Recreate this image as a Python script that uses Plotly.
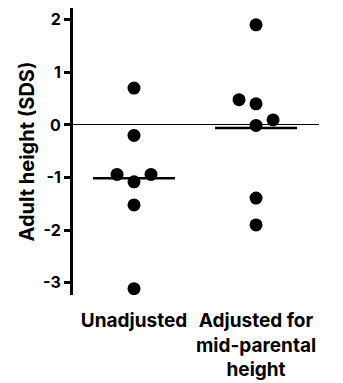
import plotly.graph_objects as go

# ---- data ----
categories = ["Unadjusted", "Adjusted for<br>mid-parental<br>height"]
unadjusted = [0.70, -0.20, -1.08, -0.94, -0.94, -1.52, -3.11]
adjusted = [1.90, 0.40, 0.48, -0.01, 0.095, -1.39, -1.90]
y_tickvals = [-3, -2, -1, 0, 1, 2]
y_ticktext = [str(v) for v in y_tickvals]
y_title = "Adult height (SDS)"

# ---- layout constants (page body adds an 8px margin around the figure) ----
W, H = 335, 375
M = dict(l=65, r=24, t=0, b=88)
Y_RANGE = [-3.23, 2.22]
X_RANGE = [-0.5, 1.516]
MARKER = 13
JITTER_PX = 17
FONT = "Inter"

plot_w = W - M["l"] - M["r"]
plot_h = H - M["t"] - M["b"]
px_per_y = plot_h / (Y_RANGE[1] - Y_RANGE[0])
px_per_x = plot_w / (X_RANGE[1] - X_RANGE[0])


def bold(s):
    return "<br>".join("<b>%s</b>" % part for part in s.split("<br>"))


def swarm(values):
    """Simple beeswarm: place each point at the smallest offset that avoids overlap."""
    placed = []  # (slot, value)
    slots = []
    for v in values:
        chosen = None
        for k in range(0, 10):
            cands = [0] if k == 0 else [-k, k]
            valid = []
            for s in cands:
                ok = True
                for ps, pv in placed:
                    dx = (s - ps) * JITTER_PX
                    dy = (v - pv) * px_per_y
                    if (dx * dx + dy * dy) ** 0.5 < MARKER:
                        ok = False
                        break
                if ok:
                    valid.append(s)
            if valid:
                if len(valid) == 1:
                    chosen = valid[0]
                else:
                    left = sum(1 for ps, _ in placed if ps < 0)
                    right = sum(1 for ps, _ in placed if ps > 0)
                    chosen = valid[0] if left <= right else valid[1]
                break
        placed.append((chosen, v))
        slots.append(chosen)
    return [s * JITTER_PX / px_per_x for s in slots]


fig = go.Figure()
groups = [unadjusted, adjusted]
half = 0.336
for i, vals in enumerate(groups):
    mean = sum(vals) / len(vals)
    fig.add_trace(go.Scatter(
        x=[i - half, i + half], y=[mean, mean], mode="lines",
        line=dict(color="black", width=2.5), hoverinfo="skip", showlegend=False))
for i, vals in enumerate(groups):
    offs = swarm(vals)
    fig.add_trace(go.Scatter(
        x=[i + o for o in offs], y=vals, mode="markers",
        marker=dict(color="black", size=MARKER, line=dict(width=0)),
        showlegend=False))

fig.update_layout(
    width=W, height=H, margin=dict(M, autoexpand=False),
    paper_bgcolor="white", plot_bgcolor="white",
    font=dict(family=FONT, color="black"),
    xaxis=dict(
        range=X_RANGE, tickvals=[0, 1], ticktext=[bold(c) for c in categories],
        tickangle=0, automargin=False,
        showline=False, showgrid=False, zeroline=False,
        ticks="outside", ticklen=8, tickcolor="rgba(0,0,0,0)",
        tickfont=dict(size=19, family=FONT),
    ),
    yaxis=dict(
        range=Y_RANGE, tickvals=y_tickvals, ticktext=[bold(t) for t in y_ticktext],
        automargin=False,
        showline=True, linecolor="black", linewidth=3,
        showgrid=False, zeroline=True, zerolinecolor="black", zerolinewidth=1,
        ticks="outside", ticklen=6, tickwidth=3, tickcolor="black",
        tickfont=dict(size=16, family=FONT),
        title=dict(text=bold(y_title), standoff=4,
                   font=dict(size=20, family=FONT)),
    ),
)

fig.write_html("out.html")
